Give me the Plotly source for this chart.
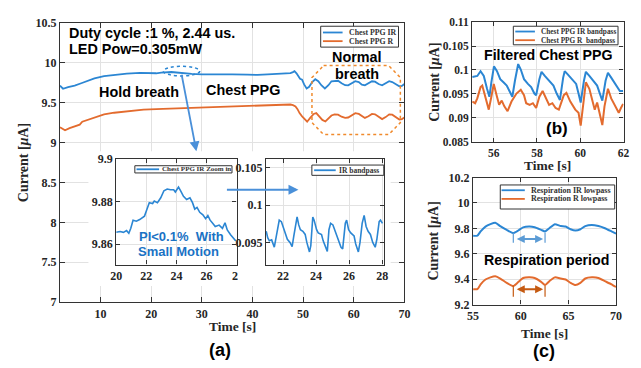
import plotly.graph_objects as go

W, H = 641, 368

# ---------------- data ----------------
# (a) main: chest PPG raw currents
t_main_ir = [2.0, 2.6, 3.6, 4.9, 6.2, 7.5, 8.8, 10.7, 12.7, 15.2, 17.8, 20.0, 21.0, 22.0, 23.0, 24.0, 25.0,
             26.0, 27.0, 28.0, 30.0, 33.0, 36.0, 39.0, 41.0, 43.0, 45.0, 46.5, 47.5, 48.0, 48.3, 48.7, 49.0,
             49.4, 49.8, 50.2, 50.7, 51.2, 51.8, 52.4, 53.0, 53.6, 54.3, 55.0, 55.6, 56.2, 56.9, 57.6, 58.3,
             58.9, 59.6, 60.3, 61.0, 61.6, 62.2, 62.9, 63.6, 64.2, 64.9, 65.6, 66.3, 67.0, 67.6, 68.3, 69.0,
             69.5, 70.0]
main_ir = [9.716, 9.676, 9.697, 9.716, 9.745, 9.776, 9.805, 9.833, 9.849, 9.865, 9.874, 9.866, 9.870, 9.878,
           9.884, 9.886, 9.880, 9.872, 9.867, 9.862, 9.857, 9.860, 9.856, 9.853, 9.849, 9.855, 9.862, 9.868,
           9.872, 9.885, 9.897, 9.870, 9.840, 9.800, 9.790, 9.730, 9.680, 9.700, 9.760, 9.795, 9.770, 9.720,
           9.680, 9.720, 9.770, 9.775, 9.776, 9.745, 9.720, 9.718, 9.745, 9.770, 9.760, 9.728, 9.718, 9.745,
           9.770, 9.765, 9.735, 9.720, 9.745, 9.770, 9.760, 9.730, 9.708, 9.712, 9.736]
t_main_r = [2.0, 3.0, 3.9, 5.2, 5.9, 6.4, 7.5, 8.8, 10.7, 12.7, 15.2, 18.5, 22.3, 25.9, 30.0, 36.5, 43.0,
            47.5, 48.0, 48.5, 48.9, 49.3, 49.8, 50.3, 50.8, 51.4, 52.1, 52.6, 53.2, 53.8, 54.4, 55.0, 55.6,
            56.2, 56.9, 57.6, 58.3, 58.9, 59.6, 60.3, 61.0, 61.6, 62.2, 62.9, 63.6, 64.2, 64.9, 65.6, 66.3,
            67.0, 67.6, 68.3, 69.0, 69.5, 70.0]
main_r = [9.194, 9.154, 9.182, 9.214, 9.225, 9.262, 9.286, 9.314, 9.354, 9.375, 9.395, 9.414, 9.423, 9.431,
          9.436, 9.447, 9.463, 9.478, 9.470, 9.455, 9.420, 9.370, 9.330, 9.290, 9.262, 9.310, 9.360, 9.370,
          9.330, 9.285, 9.265, 9.300, 9.340, 9.355, 9.350, 9.325, 9.310, 9.315, 9.345, 9.370, 9.360, 9.330,
          9.310, 9.330, 9.360, 9.355, 9.320, 9.295, 9.320, 9.355, 9.350, 9.315, 9.290, 9.295, 9.314]

# (a) inset 1: IR zoom in (20-28 s)
t_zoom = [20.0, 20.26, 20.48, 20.69, 20.84, 20.97, 21.12, 21.34, 21.56, 21.77, 21.88, 22.05, 22.2, 22.42,
          22.53, 22.74, 22.96, 23.17, 23.39, 23.61, 23.82, 23.93, 24.14, 24.3, 24.47, 24.68, 24.9, 25.07,
          25.22, 25.37, 25.55, 25.76, 25.94, 26.09, 26.24, 26.41, 26.58, 26.84, 27.06, 27.23, 27.38, 27.6,
          27.81, 27.95]
zoom_ir = [9.8656, 9.8660, 9.8656, 9.8664, 9.8652, 9.8675, 9.8713, 9.8708, 9.8716, 9.8728, 9.8732, 9.8765,
           9.8795, 9.8791, 9.8803, 9.8795, 9.8818, 9.8851, 9.8859, 9.8856, 9.8856, 9.8845, 9.8868, 9.8848,
           9.8825, 9.8810, 9.8818, 9.8795, 9.8765, 9.8773, 9.8750, 9.8738, 9.8720, 9.8735, 9.8713, 9.8698,
           9.8683, 9.8690, 9.8675, 9.8701, 9.8667, 9.8645, 9.8625, 9.8615]

# (a) inset 2: IR bandpass (21-28 s)
t_bp = [20.98, 21.07, 21.17, 21.31, 21.47, 21.57, 21.77, 21.90, 22.06, 22.26, 22.42, 22.55, 22.65, 22.75,
        22.85, 22.95, 23.05, 23.2, 23.34, 23.44, 23.6, 23.68, 23.8, 23.88, 24.03, 24.13, 24.33, 24.43, 24.59,
        24.68, 24.78, 24.88, 25.02, 25.18, 25.32, 25.51, 25.61, 25.77, 25.85, 25.97, 26.1, 26.3, 26.4, 26.56,
        26.66, 26.79, 26.91, 27.03, 27.15, 27.29, 27.43, 27.58, 27.68, 27.82, 27.9, 28.02]
bp_ir = [0.09652, 0.09567, 0.09525, 0.09538, 0.09440, 0.09546, 0.09800, 0.09780, 0.09673, 0.09546, 0.09504,
         0.09449, 0.09589, 0.09737, 0.09843, 0.09737, 0.09673, 0.09652, 0.09610, 0.09504, 0.09377, 0.09462,
         0.09843, 0.09800, 0.09673, 0.09631, 0.09610, 0.09525, 0.09419, 0.09385, 0.09673, 0.09758, 0.09737,
         0.09631, 0.09567, 0.09440, 0.09419, 0.09758, 0.09800, 0.09673, 0.09631, 0.09589, 0.09483, 0.09377,
         0.09504, 0.09758, 0.09864, 0.09716, 0.09652, 0.09610, 0.09504, 0.09440, 0.09546, 0.09780, 0.09800,
         0.09758]

# (b) filtered chest PPG
t_b_ir = [55.01, 55.24, 55.39, 55.54, 55.69, 55.8, 55.89, 56.01, 56.15, 56.3, 56.45, 56.6, 56.75, 56.86,
          56.98, 57.13, 57.25, 57.4, 57.58, 57.73, 57.88, 57.96, 58.11, 58.21, 58.36, 58.56, 58.76, 58.91,
          59.06, 59.21, 59.28, 59.42, 59.62, 59.81, 59.92, 60.02, 60.17, 60.26, 60.42, 60.6, 60.78, 60.93,
          61.02, 61.17, 61.28, 61.43, 61.65, 61.83, 61.98]
b_ir = [0.09854, 0.09874, 0.09974, 0.09874, 0.09606, 0.09439, 0.09741, 0.10075, 0.09974, 0.09807, 0.09741,
        0.09673, 0.09540, 0.09439, 0.09774, 0.10123, 0.10008, 0.09807, 0.09707, 0.09640, 0.09506, 0.09472,
        0.09807, 0.09961, 0.09874, 0.09774, 0.09673, 0.09506, 0.09372, 0.09840, 0.09974, 0.09908, 0.09807,
        0.09707, 0.09506, 0.09319, 0.09774, 0.09961, 0.09874, 0.09774, 0.09673, 0.09472, 0.09359, 0.09774,
        0.09942, 0.09840, 0.09673, 0.09560, 0.09560]
t_b_r = [55.01, 55.14, 55.24, 55.39, 55.47, 55.59, 55.69, 55.77, 55.89, 56.0, 56.15, 56.25, 56.37, 56.49,
         56.64, 56.82, 57.05, 57.25, 57.4, 57.5, 57.66, 57.81, 57.96, 58.11, 58.26, 58.41, 58.56, 58.71,
         58.86, 59.01, 59.24, 59.36, 59.54, 59.77, 59.92, 60.02, 60.14, 60.26, 60.42, 60.57, 60.67, 60.78,
         60.9, 61.02, 61.12, 61.28, 61.43, 61.62, 61.78, 61.88, 61.98]
b_r = [0.09339, 0.09304, 0.09405, 0.09640, 0.09673, 0.09472, 0.09270, 0.09170, 0.09439, 0.09707, 0.09439,
       0.09270, 0.09359, 0.09238, 0.09137, 0.09339, 0.09506, 0.09586, 0.09472, 0.09304, 0.09270, 0.09304,
       0.09204, 0.09439, 0.09560, 0.09405, 0.09270, 0.09304, 0.09204, 0.09170, 0.09472, 0.09520, 0.09339,
       0.09170, 0.09103, 0.08836, 0.09238, 0.09741, 0.09606, 0.09372, 0.09170, 0.09319, 0.09103, 0.08848,
       0.09238, 0.09606, 0.09405, 0.09238, 0.09103, 0.09204, 0.09290]

# (c) respiration lowpass
t_c = [55.0, 55.45, 55.79, 56.3, 56.82, 57.33, 57.85, 58.53, 59.22, 59.74, 60.25, 60.94, 61.46, 62.14, 62.55,
       63.0, 63.58, 64.2, 64.71, 65.23, 65.74, 66.26, 66.77, 67.46, 68.15, 68.83, 69.52, 70.0]
c_ir = [9.742, 9.742, 9.776, 9.814, 9.833, 9.844, 9.818, 9.788, 9.763, 9.783, 9.808, 9.814, 9.808, 9.788,
        9.776, 9.801, 9.833, 9.818, 9.814, 9.793, 9.783, 9.793, 9.818, 9.826, 9.818, 9.801, 9.776, 9.758]
c_r = [9.321, 9.321, 9.359, 9.397, 9.414, 9.422, 9.405, 9.371, 9.346, 9.377, 9.409, 9.414, 9.409, 9.379,
       9.354, 9.384, 9.414, 9.405, 9.397, 9.371, 9.354, 9.371, 9.405, 9.414, 9.409, 9.384, 9.359, 9.338]
resp_marks = [59.22, 62.55]

# tick values / labels
main_xt = [10, 20, 30, 40, 50, 60, 70]
main_yt = [7, 7.5, 8, 8.5, 9, 9.5, 10, 10.5]
zoom_xt = [20, 22, 24, 26, 28]
zoom_xtl = ["20", "22", "24", "26", ""]   # the "28" is partly hidden behind the second inset
zoom_yt = [9.86, 9.88, 9.9]
bp_xt = [22, 24, 26, 28]
bp_yt = [0.095, 0.1, 0.105]
bp_ytl = ["0.095", "0.1", "0.105"]
b_xt = [56, 58, 60, 62]
b_yt = [0.085, 0.09, 0.095, 0.1, 0.105, 0.11]
b_ytl = ["0.085", "0.09", "0.095", "0.1", "0.105", "0.11"]
c_xt = [55, 60, 65, 70]
c_yt = [9.2, 9.4, 9.6, 9.8, 10, 10.2]
c_ytl = ["9.2", "9.4", "9.6", "9.8", "10", "10.2"]

# ---------------- style ----------------
BLUE = "#2b86d3"
ORANGE = "#e36b2e"
AXC = "#333333"
GRID = "#e2e2e2"
SERIF = "Liberation Serif, Times New Roman, serif"
SANS = "Liberation Sans, Arial, sans-serif"


def px(X):
    return X / W


def py(Y):
    return 1 - Y / H


def dx(x0, x1):
    return [x0 / W, x1 / W]


def dy(top, bottom):
    return [1 - bottom / H, 1 - top / H]


def axis(domain, rng, anchor, tickvals, ticktext=None, size=12, ticklen=4):
    d = dict(domain=domain, range=rng, anchor=anchor, tickvals=tickvals,
             showgrid=True, gridcolor=GRID, gridwidth=1, zeroline=False,
             showline=True, linecolor=AXC, linewidth=1.3, mirror="ticks",
             ticks="inside", ticklen=ticklen, tickwidth=1, tickcolor=AXC,
             tickfont=dict(family=SERIF, size=size, color="#262626", weight="bold"))
    if ticktext is not None:
        d["ticktext"] = ticktext
    return d


def blank(domain, anchor):
    return dict(domain=domain, range=[0, 1], anchor=anchor, visible=False, showgrid=False)


fig = go.Figure()


def line(x, y, ax, color, width):
    fig.add_trace(go.Scatter(x=x, y=y, xaxis="x" + ax, yaxis="y" + ax, mode="lines",
                             line=dict(color=color, width=width), showlegend=False, hoverinfo="skip"))


# main
line(t_main_ir, main_ir, "", BLUE, 1.8)
line(t_main_r, main_r, "", ORANGE, 1.8)
# white backing for inset 1
fig.add_trace(go.Scatter(x=[None], y=[None], xaxis="x2", yaxis="y2", showlegend=False))
# inset 1
line(t_zoom, zoom_ir, "3", BLUE, 1.6)
# white backing for inset 2
fig.add_trace(go.Scatter(x=[None], y=[None], xaxis="x4", yaxis="y4", showlegend=False))
# inset 2
line(t_bp, bp_ir, "5", BLUE, 1.6)
# (b)
line(t_b_ir, b_ir, "6", BLUE, 2)
line(t_b_r, b_r, "6", ORANGE, 2)
# (c)
fig.add_trace(go.Scatter(x=t_c, y=c_ir, xaxis="x7", yaxis="y7", mode="lines", line_shape="spline",
                         line=dict(color=BLUE, width=2, smoothing=0.5), showlegend=False))
fig.add_trace(go.Scatter(x=t_c, y=c_r, xaxis="x7", yaxis="y7", mode="lines", line_shape="spline",
                         line=dict(color=ORANGE, width=2, smoothing=0.5), showlegend=False))

layout = dict(
    width=W, height=H, margin=dict(l=0, r=0, t=0, b=0),
    paper_bgcolor="white", plot_bgcolor="white", showlegend=False,
    xaxis=axis(dx(55, 406), [2, 70], "y", main_xt, size=12, ticklen=5),
    yaxis=axis(dy(16.7, 306.7), [7, 10.5], "x", main_yt, size=12, ticklen=5),
    xaxis2=blank(dx(84, 236), "y2"), yaxis2=blank(dy(150, 290), "x2"),
    xaxis3=axis(dx(112.3, 235), [20, 28], "y3", zoom_xt, zoom_xtl),
    yaxis3=axis(dy(158, 267.7), [9.8505, 9.9], "x3", zoom_yt),
    xaxis4=blank(dx(236.6, 392), "y4"), yaxis4=blank(dy(150, 290), "x4"),
    xaxis5=axis(dx(265, 385), [20.97, 28.1], "y5", bp_xt),
    yaxis5=axis(dy(158.3, 267.7), [0.0921, 0.1061], "x5", bp_yt, bp_ytl),
    xaxis6=axis(dx(475, 629.3), [55, 62], "y6", b_xt, size=11.5),
    yaxis6=axis(dy(15.7, 140), [0.085, 0.11], "x6", b_yt, b_ytl, size=11.5),
    xaxis7=axis(dx(476, 621.7), [55, 70], "y7", c_xt),
    yaxis7=axis(dy(177.3, 309.3), [9.2, 10.2], "x7", c_yt, c_ytl),
)
fig.update_layout(**layout)

annotations = []
shapes = []


def text(X, Y, s, size=14.4, family=SANS, color="black", xanchor="center", angle=0):
    annotations.append(dict(x=px(X), y=py(Y), xref="paper", yref="paper", text=s, showarrow=False,
                            xanchor=xanchor, yanchor="middle", textangle=angle,
                            font=dict(family=family, size=size, color=color, weight="bold")))


# main annotations
text(62, 26.7, "Duty cycle :1 %, 2.44 us.", xanchor="left")
text(62, 43.3, "LED Pow=0.305mW", xanchor="left")
text(136, 88.3, "Hold breath")
text(242, 86, "Chest PPG")
text(358, 51.7, "Normal")
text(358, 70, "breath")
text(179, 238.5, "PI&lt;0.1%&nbsp; With", size=13, color="#1a72c4")
text(176, 254.5, "Small Motion", size=13, color="#1a72c4")
text(553, 50, "Filtered Chest PPG", size=14.2)
text(550.5, 263, "Respiration period", size=14.2)
text(218, 356.5, "(a)", size=18)
text(561.5, 126, "(b)", size=17)
text(548, 358, "(c)", size=18)
# visible remainder of the inset's last x tick label
text(233.3, 279.5, "2", size=12, family=SERIF, color="#262626")

# axis titles
text(231, 332, "Time [s]", size=13.5, family=SERIF, color="#262626")
text(552, 165, "Time [s]", size=13.5, family=SERIF, color="#262626")
text(549, 339, "Time [s]", size=13.5, family=SERIF, color="#262626")
text(18, 161.7, "Current [<i>μ</i>A]", size=14, family=SERIF, color="#262626", angle=-90)
text(436, 78, "Current [<i>μ</i>A]", size=14, family=SERIF, color="#262626", angle=-90)
text(436, 243, "Current [<i>μ</i>A]", size=14, family=SERIF, color="#262626", angle=-90)

# arrows
annotations.append(dict(x=px(194), y=py(150), xref="paper", yref="paper", text="", showarrow=True,
                        ax=-15, ay=-78, arrowhead=2, arrowsize=1.1, arrowwidth=1.8, arrowcolor="#4a90d9"))
annotations.append(dict(x=px(298), y=py(190), xref="paper", yref="paper", text="", showarrow=True,
                        ax=-73, ay=0, arrowhead=2, arrowsize=1.1, arrowwidth=1.8, arrowcolor="#4a90d9"))
for yv, col in [(9.717, "#5b9bd5"), (9.321, "#c55a11")]:
    annotations.append(dict(x=resp_marks[1] - 0.2, y=yv, xref="x7", yref="y7", axref="x7", ayref="y7",
                            ax=resp_marks[0] + 0.2, ay=yv, text="", showarrow=True, arrowside="end+start",
                            arrowhead=2, startarrowhead=2, arrowsize=0.8, startarrowsize=0.8,
                            arrowwidth=2, arrowcolor=col))
for xm in resp_marks:
    shapes.append(dict(type="line", xref="x7", yref="y7", x0=xm, x1=xm, y0=9.687, y1=9.765,
                       line=dict(color="#5b9bd5", width=1.2)))
    shapes.append(dict(type="line", xref="x7", yref="y7", x0=xm, x1=xm, y0=9.262, y1=9.35,
                       line=dict(color="#c55a11", width=1.2)))

# dotted ellipse and octagon on main axes
shapes.append(dict(type="circle", xref="x", yref="y", x0=22.4, x1=29.6, y0=9.837, y1=9.957,
                   line=dict(color="#2b86d3", width=1.5, dash="dot"), layer="above"))
ox0, ox1, oy0, oy1, cx, cy = 51.75, 69.2, 9.101, 9.966, 2.3, 0.15
oct_path = (f"M {ox0 + cx},{oy1} L {ox1 - cx},{oy1} L {ox1},{oy1 - cy} L {ox1},{oy0 + cy} "
            f"L {ox1 - cx},{oy0} L {ox0 + cx},{oy0} L {ox0},{oy0 + cy} L {ox0},{oy1 - cy} Z")
shapes.append(dict(type="path", xref="x", yref="y", path=oct_path,
                   line=dict(color="#f08a2c", width=1.5, dash="dot"), layer="above"))


# legends (drawn manually)
def legend(x0, x1, y0, y1, entries, size):
    shapes.append(dict(type="rect", xref="paper", yref="paper", x0=px(x0), x1=px(x1), y0=py(y1), y1=py(y0),
                       fillcolor="white", line=dict(color="#333333", width=1), layer="above"))
    for (label, color, Y, lx0, lx1, tx) in entries:
        shapes.append(dict(type="line", xref="paper", yref="paper", x0=px(lx0), x1=px(lx1), y0=py(Y), y1=py(Y),
                           line=dict(color=color, width=1.8), layer="above"))
        annotations.append(dict(x=px(tx), y=py(Y), xref="paper", yref="paper", text=label, showarrow=False,
                                xanchor="left", yanchor="middle",
                                font=dict(family=SERIF, size=size, color="#333333", weight="bold")))


legend(320.7, 400, 20, 41.7, [("Chest PPG IR", BLUE, 26.5, 323, 343, 348),
                              ("Chest PPG R", ORANGE, 35.5, 323, 343, 348)], 7.8)
legend(131.3, 230.3, 165, 172.5, [("Chest PPG IR Zoom in", BLUE, 168.7, 133, 156, 156.5)], 7)
legend(311.7, 385, 164.3, 175, [("IR bandpass", BLUE, 169.7, 314, 336, 337)], 7.5)
legend(517, 623.7, 20, 39.3, [("Chest PPG IR bandpass", BLUE, 25.5, 519, 539, 543),
                              ("Chest PPG R&nbsp; bandpass", ORANGE, 34.5, 519, 539, 543)], 7.3)
legend(503.7, 620.3, 185, 210, [("Respiration IR lowpass", BLUE, 190.5, 505, 528.7, 533),
                                ("Respiration R lowpass", ORANGE, 199.5, 505, 528.7, 533)], 8)

fig.update_layout(annotations=annotations, shapes=shapes)
fig.write_html("out.html", config={"displayModeBar": False},
               post_script="document.body.style.margin='0';document.body.style.overflow='hidden';")
